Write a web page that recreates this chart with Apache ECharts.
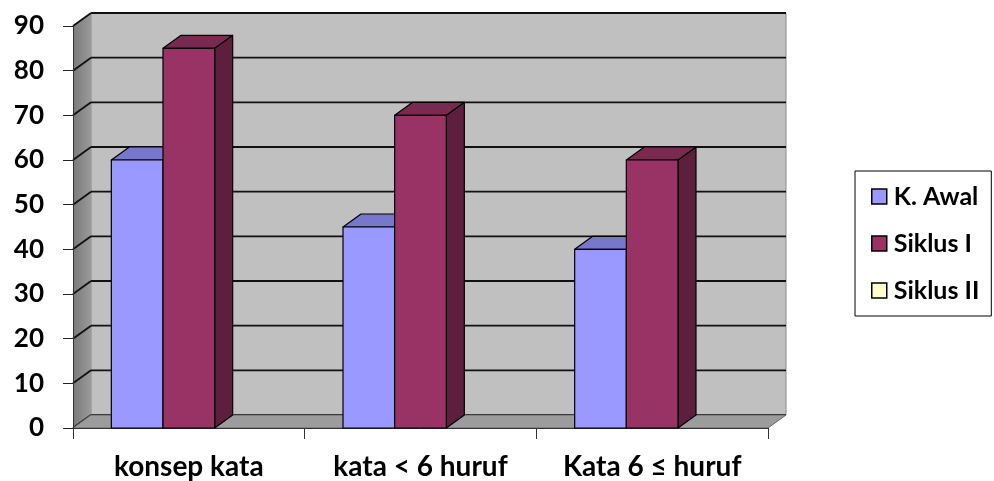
<!DOCTYPE html>
<html><head><meta charset="utf-8">
<script src="https://cdn.jsdelivr.net/npm/echarts@6/dist/echarts.min.js"></script>
<style>html,body{margin:0;padding:0;background:#fff}#c{width:994px;height:481px}</style>
</head><body><div id="c"></div>
<script>
const categories = ['konsep kata', 'kata < 6 huruf', 'Kata 6 \u2264 huruf'];
const seriesNames = ['K. Awal', 'Siklus I', 'Siklus II'];
const kAwal = [60, 45, 40];
const siklusI = [85, 70, 60];
const siklusII = [0, 0, 0];
const yTicks = [0, 10, 20, 30, 40, 50, 60, 70, 80, 90];

const DX = 18, DY = 13;
const FONT = 'Lato';
const faces = [
  {front: '#9999FF', top: '#7777CC', side: '#5C5C99'},
  {front: '#993366', top: '#7A2951', side: '#5E1F3F'},
  {front: '#FFFFCC', top: '#CCCCA3', side: '#99997A'}
];

const chart = echarts.init(document.getElementById('c'));

function wallsRender(params, api) {
  const cs = params.coordSys;
  const x0 = cs.x, x1 = cs.x + cs.width, yTop = cs.y, y0 = cs.y + cs.height;
  const ch = [];
  ch.push({type: 'rect', shape: {x: x0 + DX, y: yTop - DY, width: x1 - x0, height: y0 - yTop}, style: {fill: '#C0C0C0', stroke: '#8a8a8a', lineWidth: 1}});
  ch.push({type: 'polygon', shape: {points: [[x0, yTop], [x0 + DX, yTop - DY], [x0 + DX, y0 - DY], [x0, y0]]},
    style: {fill: new echarts.graphic.LinearGradient(0, 0, 1, 0, [{offset: 0, color: '#7a7a7a'}, {offset: 1, color: '#9a9a9a'}])}});
  yTicks.forEach(v => {
    const y = api.coord([0, v])[1];
    ch.push({type: 'line', shape: {x1: x0, y1: y, x2: x0 + DX, y2: y - DY}, style: {stroke: '#111', lineWidth: 1.8}});
    ch.push({type: 'line', shape: {x1: x0 + DX, y1: y - DY, x2: x1 + DX, y2: y - DY}, style: {stroke: '#111', lineWidth: 1.8}});
  });
  ch.push({type: 'polygon', shape: {points: [[x0, y0], [x1, y0], [x1 + DX, y0 - DY], [x0 + DX, y0 - DY]]}, style: {fill: '#9C9C9C', stroke: '#666', lineWidth: 1}});
  return {type: 'group', children: ch};
}

function barRender(si) {
  return function (params, api) {
    const ci = api.value(0), v = api.value(1);
    if (!v) return null;
    const band = api.size([1, 0])[0];
    const bw = band * 0.223;
    const c = api.coord([ci, v]);
    const base = api.coord([ci, 0]);
    const xl = c[0] - 1.5 * bw + si * bw, xr = xl + bw;
    const yt = c[1], yb = base[1];
    const f = faces[si];
    const st = {stroke: '#000', lineWidth: 1.2, lineJoin: 'round'};
    return {type: 'group', children: [
      {type: 'polygon', shape: {points: [[xr, yb], [xr + DX, yb - DY], [xr + DX, yt - DY], [xr, yt]]}, style: Object.assign({fill: f.side}, st)},
      {type: 'polygon', shape: {points: [[xl, yt], [xl + DX, yt - DY], [xr + DX, yt - DY], [xr, yt]]}, style: Object.assign({fill: f.top}, st)},
      {type: 'rect', shape: {x: xl, y: yt, width: bw, height: yb - yt}, style: Object.assign({fill: f.front}, st)}
    ]};
  };
}

const seriesData = [kAwal, siklusI, siklusII];

chart.setOption({
  animation: false,
  grid: {left: 73, right: 226, top: 26, bottom: 53, containLabel: false},
  legend: {
    orient: 'vertical', left: 855, top: 171,
    padding: [13, 12, 13, 16], itemGap: 22, itemWidth: 15, itemHeight: 15,
    borderColor: '#000', borderWidth: 1, backgroundColor: '#fff',
    icon: 'rect',
    textStyle: {fontFamily: FONT, fontWeight: 'bold', fontSize: 25, color: '#000', padding: [0, 0, 0, 2]},
    data: seriesNames.map((n, i) => ({name: n, itemStyle: {color: faces[i].front, borderColor: '#000', borderWidth: 1.5}}))
  },
  xAxis: {
    type: 'category', data: categories,
    axisLine: {show: true, lineStyle: {color: '#333', width: 1}},
    axisTick: {show: true, interval: 0, length: 11, lineStyle: {color: '#333'}},
    axisLabel: {interval: 0, hideOverlap: false, fontFamily: FONT, fontWeight: 'bold', fontSize: 28, color: '#000', margin: 25},
    splitLine: {show: false}
  },
  yAxis: {
    type: 'value', min: 0, max: 90, interval: 10,
    axisLine: {show: true, lineStyle: {color: '#333', width: 1}},
    axisTick: {show: true, length: 10, lineStyle: {color: '#222'}},
    axisLabel: {fontFamily: FONT, fontWeight: 'bold', fontSize: 26, color: '#000', margin: 29},
    splitLine: {show: false}
  },
  series: [
    {type: 'custom', name: '__walls', renderItem: wallsRender, data: [[0, 0]], silent: true, z: 0, clip: false, legendHoverLink: false}
  ].concat(seriesNames.map((n, i) => ({
    type: 'custom', name: n, renderItem: barRender(i), z: 2 + i, clip: false,
    itemStyle: {color: faces[i].front},
    encode: {x: 0, y: 1},
    data: seriesData[i].map((v, k) => [k, v])
  })))
});
</script></body></html>
